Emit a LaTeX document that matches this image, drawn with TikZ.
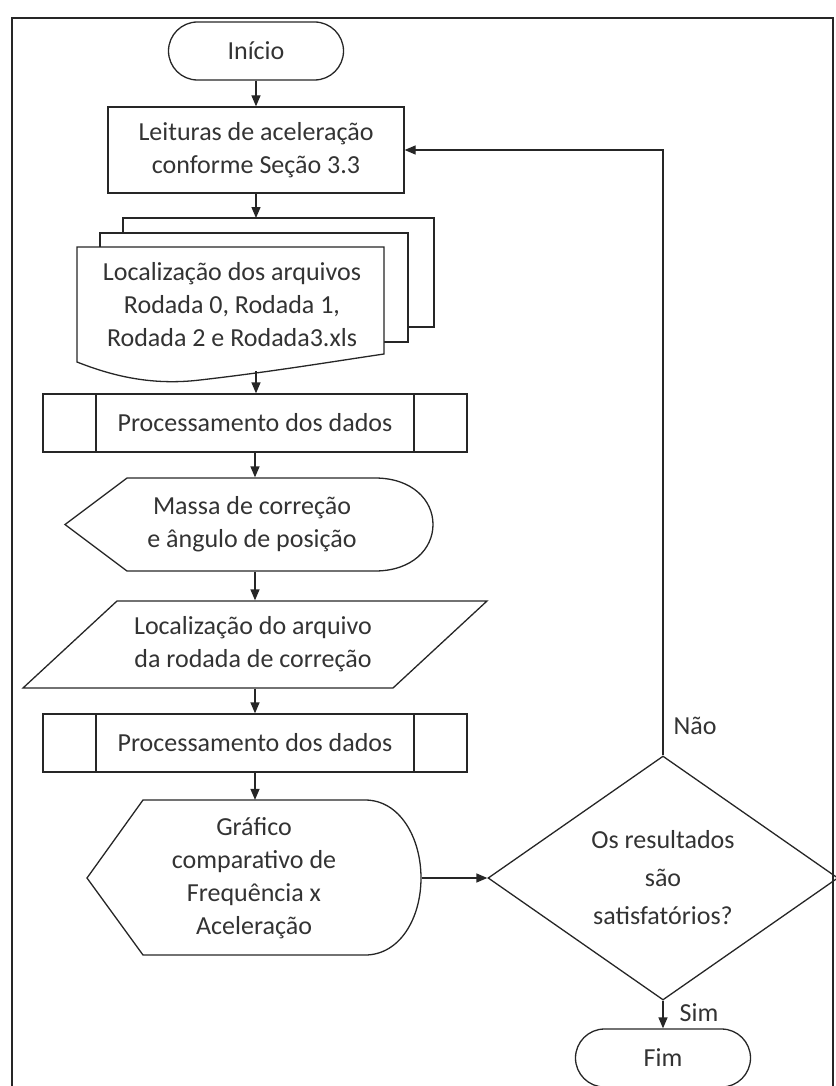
\documentclass[tikz,border=0pt]{standalone}
\usepackage{fontspec}
\setmainfont{Carlito}
\usetikzlibrary{positioning, arrows.meta, shapes.geometric, calc}

\tikzset{
  base/.style={font=\fontsize{26}{33}\selectfont, text=black!80, align=center, inner sep=0pt},
  startstop/.style={base, draw, rounded corners=29pt, minimum width=175pt, minimum height=58pt},
  procbox/.style={base, draw, minimum width=296pt, minimum height=86pt},
  subproc/.style={base, draw, minimum width=424pt, minimum height=58pt,
    path picture={
      \draw ([xshift=53pt]path picture bounding box.north west) -- ([xshift=53pt]path picture bounding box.south west)
            ([xshift=-53pt]path picture bounding box.north east) -- ([xshift=-53pt]path picture bounding box.south east);}},
  decision/.style={base, draw, diamond, aspect=1.43, minimum width=350pt, minimum height=244pt,
    font=\fontsize{26}{38}\selectfont},
  flow/.style={-{Triangle[length=11pt,width=9pt]}},
}

\begin{document}
\begin{tikzpicture}[x=1pt, y=-1pt, line width=1.3pt, draw=black!85]
  \useasboundingbox (0,0) rectangle (835,1086);

  % moldura
  \draw[line width=2.4pt] (12,1100) -- (12,18) -- (833,18) -- (833,1100);

  \node[startstop] (inicio) at (256,51) {Início};
  \node[procbox] (leit) at (256,150) {Leituras de aceleração\\conforme Seção 3.3};

  % pilha de documentos
  \draw[fill=white] (123,218) rectangle (434,327);
  \draw[fill=white] (100,233) rectangle (408,342);
  \draw[fill=white] (77,247) -- (384,247) -- (384,354)
    .. controls (330,362) and (270,372) .. (200,380)
    .. controls (150,386) and (110,375) .. (77,362) -- cycle;
  \node[base] (docs) at (232,305) {Localização dos arquivos\\Rodada 0, Rodada 1,\\Rodada 2 e Rodada3.xls};
  \coordinate (doctop) at (256,218);
  \coordinate (docbot) at (256,371);

  \node[subproc] (proc1) at (255,423) {Processamento dos dados};

  % exibicao
  \draw (65,524.5) -- (127,478) -- (375,478)
    .. controls (412,478) and (433,500) .. (433,524.5)
    .. controls (433,549) and (412,571) .. (375,571) -- (127,571) -- cycle;
  \node[base, minimum height=93pt] (massa) at (252,524.5) {Massa de correção\\e ângulo de posição};

  % entrada
  \draw (117,601) -- (487,601) -- (393,688) -- (23,688) -- cycle;
  \node[base, minimum height=87pt] (param) at (253,644.5) {Localização do arquivo\\da rodada de correção};

  \node[subproc] (proc2) at (255,743) {Processamento dos dados};

  \draw (87,878) -- (143,800) -- (365,800)
    .. controls (400,800) and (421,838) .. (421,878)
    .. controls (421,918) and (400,955) .. (365,955) -- (143,955) -- cycle;
  \node[base, minimum width=334pt, minimum height=155pt] (graf) at (254,878)
    {Gráfico\\comparativo de\\Frequência x\\Aceleração};

  \node[decision] (dec) at (663,878) {Os resultados\\são\\satisfatórios?};
  \node[startstop] (fim) at (663,1058) {Fim};

  % conexoes
  \draw[flow] (inicio.south) -- (inicio.south |- leit.north);
  \draw[flow] (leit.south) -- (doctop);
  \draw[flow] (docbot) -- (docbot |- proc1.north);
  \draw[flow] (proc1.south) -- (proc1.south |- massa.north);
  \draw[flow] (proc1.south |- massa.south) -- (proc1.south |- param.north);
  \draw[flow] (proc1.south |- param.south) -- (proc2.north);
  \draw[flow] (proc2.south) -- (proc2.south |- graf.north);
  \draw[flow] (graf.east) -- (dec.west);
  \draw[flow] (dec.south) -- (fim.north);
  \draw[flow] (dec.north) |- (leit.east);

  \node[base, anchor=west] (nao) at ([xshift=10pt,yshift=29pt]dec.north) {Não};
  \node[base, anchor=west] (sim) at ([xshift=16pt,yshift=-12pt]dec.south) {Sim};
\end{tikzpicture}
\end{document}
